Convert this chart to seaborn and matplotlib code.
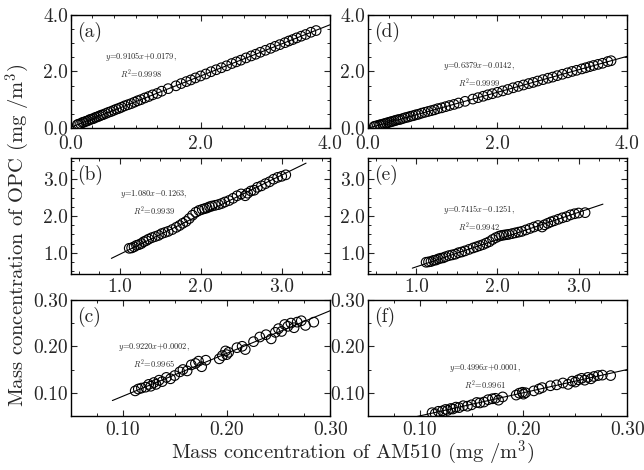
import numpy as np
import pandas as pd
import matplotlib
matplotlib.use("Agg")
import matplotlib.pyplot as plt
import seaborn as sns
from matplotlib.ticker import MultipleLocator, AutoMinorLocator, FormatStrFormatter

# ---------------- data ----------------
a_x = [0.10, 0.12, 0.15, 0.18, 0.20, 0.23, 0.26, 0.29, 0.32, 0.35, 0.38, 0.41, 0.44, 0.47, 0.50, 0.54,
       0.58, 0.62, 0.66, 0.70, 0.74, 0.78, 0.83, 0.88, 0.93, 0.98, 1.03, 1.08, 1.14, 1.20, 1.26, 1.33,
       1.40, 1.50, 1.62, 1.70, 1.78, 1.85, 1.92, 2.00, 2.08, 2.16, 2.24, 2.32, 2.40, 2.48, 2.55, 2.62,
       2.70, 2.78, 2.85, 2.92, 3.00, 3.08, 3.15, 3.22, 3.30, 3.36, 3.42, 3.48, 3.55, 3.62, 3.70, 3.78]
a_y = [0.11, 0.13, 0.15, 0.19, 0.20, 0.23, 0.25, 0.29, 0.31, 0.33, 0.37, 0.39, 0.42, 0.45, 0.47, 0.51,
       0.55, 0.58, 0.62, 0.66, 0.69, 0.73, 0.78, 0.82, 0.86, 0.91, 0.96, 1.00, 1.06, 1.11, 1.17, 1.22,
       1.30, 1.39, 1.49, 1.57, 1.64, 1.70, 1.77, 1.84, 1.91, 1.99, 2.06, 2.13, 2.20, 2.28, 2.34, 2.40,
       2.48, 2.55, 2.61, 2.68, 2.75, 2.82, 2.89, 2.95, 3.02, 3.08, 3.13, 3.19, 3.25, 3.31, 3.39, 3.45]

d_x = [0.10, 0.12, 0.15, 0.18, 0.20, 0.23, 0.26, 0.29, 0.32, 0.35, 0.38, 0.41, 0.44, 0.47, 0.50, 0.54,
       0.58, 0.62, 0.66, 0.70, 0.74, 0.78, 0.83, 0.88, 0.93, 0.98, 1.03, 1.08, 1.14, 1.20, 1.26, 1.33,
       1.40, 1.50, 1.62, 1.70, 1.78, 1.85, 1.92, 2.00, 2.08, 2.16, 2.24, 2.32, 2.40, 2.48, 2.55, 2.62,
       2.70, 2.78, 2.85, 2.92, 3.00, 3.08, 3.15, 3.22, 3.30, 3.36, 3.42, 3.48, 3.55, 3.62, 3.70, 3.75]
d_y = [0.05, 0.06, 0.08, 0.10, 0.11, 0.13, 0.15, 0.17, 0.19, 0.21, 0.23, 0.25, 0.27, 0.29, 0.30, 0.33,
       0.36, 0.38, 0.41, 0.43, 0.46, 0.48, 0.52, 0.55, 0.58, 0.61, 0.64, 0.68, 0.71, 0.75, 0.79, 0.83,
       0.88, 0.94, 1.02, 1.07, 1.12, 1.17, 1.21, 1.26, 1.31, 1.36, 1.42, 1.47, 1.52, 1.57, 1.61, 1.66,
       1.71, 1.76, 1.80, 1.85, 1.90, 1.95, 2.00, 2.04, 2.09, 2.13, 2.17, 2.21, 2.25, 2.29, 2.35, 2.38]

b_x = [1.12, 1.15, 1.18, 1.21, 1.24, 1.27, 1.30, 1.33, 1.36, 1.40, 1.44, 1.48, 1.52, 1.56, 1.60, 1.65,
       1.70, 1.74, 1.78, 1.82, 1.86, 1.90, 1.94, 1.98, 2.02, 2.05, 2.08, 2.11, 2.14, 2.18, 2.22, 2.26,
       2.30, 2.35, 2.40, 2.45, 2.50, 2.55, 2.58, 2.62, 2.66, 2.70, 2.75, 2.80, 2.85, 2.90, 2.95, 3.00, 3.05]
b_y = [1.12, 1.13, 1.16, 1.20, 1.22, 1.25, 1.30, 1.33, 1.37, 1.41, 1.44, 1.47, 1.52, 1.55, 1.58, 1.63,
       1.69, 1.74, 1.80, 1.85, 1.93, 2.02, 2.10, 2.15, 2.18, 2.20, 2.22, 2.25, 2.27, 2.29, 2.31, 2.34,
       2.38, 2.42, 2.48, 2.55, 2.60, 2.55, 2.62, 2.68, 2.70, 2.78, 2.82, 2.88, 2.93, 3.00, 3.05, 3.08, 3.12]

e_x = [1.12, 1.15, 1.18, 1.21, 1.24, 1.27, 1.30, 1.33, 1.36, 1.40, 1.44, 1.48, 1.52, 1.56, 1.60, 1.65,
       1.70, 1.74, 1.78, 1.82, 1.86, 1.90, 1.94, 1.98, 2.02, 2.05, 2.08, 2.11, 2.14, 2.18, 2.22, 2.26,
       2.30, 2.35, 2.40, 2.45, 2.50, 2.55, 2.58, 2.62, 2.66, 2.70, 2.75, 2.80, 2.85, 2.90, 2.95, 3.00, 3.08]
e_y = [0.74, 0.75, 0.76, 0.79, 0.80, 0.83, 0.85, 0.86, 0.89, 0.92, 0.94, 0.96, 1.00, 1.02, 1.05, 1.09,
       1.13, 1.16, 1.19, 1.22, 1.26, 1.30, 1.36, 1.41, 1.45, 1.47, 1.48, 1.49, 1.50, 1.52, 1.54, 1.56,
       1.58, 1.62, 1.66, 1.70, 1.74, 1.70, 1.76, 1.80, 1.84, 1.87, 1.91, 1.95, 1.98, 2.03, 2.06, 2.08, 2.09]

c_x = [0.112, 0.115, 0.118, 0.122, 0.125, 0.127, 0.130, 0.132, 0.135, 0.138, 0.142, 0.146, 0.150, 0.155,
       0.158, 0.162, 0.166, 0.170, 0.173, 0.176, 0.180, 0.193, 0.196, 0.199, 0.200, 0.202, 0.210, 0.215,
       0.218, 0.226, 0.232, 0.238, 0.243, 0.247, 0.250, 0.253, 0.256, 0.259, 0.262, 0.265, 0.268, 0.272,
       0.276, 0.284]
c_y = [0.104, 0.108, 0.110, 0.112, 0.118, 0.114, 0.122, 0.118, 0.127, 0.124, 0.133, 0.130, 0.137, 0.145,
       0.150, 0.147, 0.160, 0.163, 0.168, 0.156, 0.170, 0.173, 0.180, 0.190, 0.182, 0.187, 0.197, 0.200,
       0.193, 0.210, 0.220, 0.225, 0.216, 0.230, 0.238, 0.232, 0.247, 0.243, 0.250, 0.240, 0.252, 0.255,
       0.245, 0.252]

f_x = [0.112, 0.115, 0.118, 0.122, 0.125, 0.127, 0.130, 0.132, 0.135, 0.138, 0.142, 0.146, 0.150, 0.155,
       0.158, 0.162, 0.166, 0.170, 0.173, 0.176, 0.180, 0.193, 0.196, 0.199, 0.200, 0.202, 0.210, 0.215,
       0.218, 0.226, 0.232, 0.238, 0.243, 0.247, 0.250, 0.253, 0.256, 0.259, 0.262, 0.265, 0.268, 0.272,
       0.276, 0.284]
f_y = [0.057, 0.055, 0.060, 0.061, 0.064, 0.062, 0.066, 0.065, 0.069, 0.068, 0.072, 0.071, 0.074, 0.079,
       0.078, 0.080, 0.085, 0.087, 0.088, 0.084, 0.091, 0.095, 0.099, 0.101, 0.097, 0.100, 0.104, 0.108,
       0.111, 0.115, 0.117, 0.121, 0.118, 0.125, 0.123, 0.128, 0.131, 0.127, 0.133, 0.130, 0.135, 0.137,
       0.138, 0.137]

# fit coefficients (slope, intercept) as printed on the chart
slopes = [0.9105, 1.080, 0.9220, 0.6379, 0.7415, 0.4996]
intercepts = [0.0179, -0.1263, 0.0002, -0.0142, -0.1251, 0.0001]
line_start = [0.0, 0.90, 0.09, 0.0, 0.95, 0.09]
line_end = [4.0, 3.30, 0.30, 4.0, 3.30, 0.30]
eq_texts = ["$y$=0.9105$x$+0.0179,\n$R^2$=0.9998",
            "$y$=1.080$x$$-$0.1263,\n$R^2$=0.9939",
            "$y$=0.9220$x$+0.0002,\n$R^2$=0.9965",
            "$y$=0.6379$x$$-$0.0142,\n$R^2$=0.9999",
            "$y$=0.7415$x$$-$0.1251,\n$R^2$=0.9942",
            "$y$=0.4996$x$+0.0001,\n$R^2$=0.9961"]
panel_tags = ["(a)", "(b)", "(c)", "(d)", "(e)", "(f)"]
xs_all = [a_x, b_x, c_x, d_x, e_x, f_x]
ys_all = [a_y, b_y, c_y, d_y, e_y, f_y]

# ---------------- style ----------------
sns.set_style("ticks")
plt.rcParams.update({
    "font.family": ["cmr10", "DejaVu Serif"],
    "mathtext.fontset": "cm",
    "axes.formatter.use_mathtext": True,
    "axes.unicode_minus": False,
    "xtick.direction": "in",
    "ytick.direction": "in",
    "xtick.top": True,
    "ytick.right": True,
    "axes.linewidth": 1.0,
    "axes.edgecolor": "black",
})

fig = plt.figure(figsize=(6.44, 4.70), dpi=100)

col_left = [0.110, 0.571]
col_w = 0.403
row_bottom = [0.728, 0.417, 0.115]
row_h = [0.240, 0.247, 0.247]

row_xlim = [(0.0, 4.0), (0.4, 3.6), (0.05, 0.30)]
row_ylim = [(0.0, 4.0), (0.42, 3.58), (0.05, 0.30)]
row_xmajor = [2.0, 1.0, 0.1]
row_xminor = [6, 4, 4]
row_ymajor = [2.0, 1.0, 0.1]
row_yminor = [4, 4, 2]
row_fmt = ["%.1f", "%.1f", "%.2f"]
row_xpad = [5, 3, 4]

eq_pos = [(0.27, 0.56), (0.32, 0.62), (0.32, 0.52), (0.43, 0.47), (0.43, 0.48), (0.45, 0.34)]

for i in range(6):
    col = i // 3
    row = i % 3
    ax = fig.add_axes([col_left[col], row_bottom[row], col_w, row_h[row]])
    lx = np.array([line_start[i], line_end[i]])
    ly = slopes[i] * lx + intercepts[i]
    sns.lineplot(x=lx, y=ly, ax=ax, color="black", linewidth=0.8)
    df = pd.DataFrame({"x": xs_all[i], "y": ys_all[i]})
    sns.scatterplot(data=df, x="x", y="y", ax=ax, marker="o", s=48,
                    facecolor="none", edgecolor="black", linewidth=0.8, zorder=3)
    ax.set_xlim(*row_xlim[row])
    ax.set_ylim(*row_ylim[row])
    ax.xaxis.set_major_locator(MultipleLocator(row_xmajor[row]))
    ax.xaxis.set_minor_locator(AutoMinorLocator(row_xminor[row]))
    ax.yaxis.set_major_locator(MultipleLocator(row_ymajor[row]))
    ax.yaxis.set_minor_locator(AutoMinorLocator(row_yminor[row]))
    ax.xaxis.set_major_formatter(FormatStrFormatter(row_fmt[row]))
    ax.yaxis.set_major_formatter(FormatStrFormatter(row_fmt[row]))
    ax.tick_params(which="major", length=4, width=0.8, labelsize=14)
    ax.tick_params(axis="y", which="major", pad=2)
    ax.tick_params(axis="x", which="major", pad=row_xpad[row])
    ax.tick_params(which="minor", length=2, width=0.7)
    ax.set_xlabel("")
    ax.set_ylabel("")
    ax.text(0.025, 0.94, panel_tags[i], transform=ax.transAxes, ha="left", va="top", fontsize=14)
    ax.text(eq_pos[i][0], eq_pos[i][1], eq_texts[i], transform=ax.transAxes,
            ha="center", va="center", fontsize=6.0, multialignment="center", linespacing=1.4)

fig.text(0.028, 0.50, "Mass concentration of OPC (mg /m$^3$)", rotation=90,
         ha="center", va="center", fontsize=14.8)
fig.text(0.547, 0.036, "Mass concentration of AM510 (mg /m$^3$)",
         ha="center", va="center", fontsize=14.8)

fig.savefig("out.png", dpi=100)
